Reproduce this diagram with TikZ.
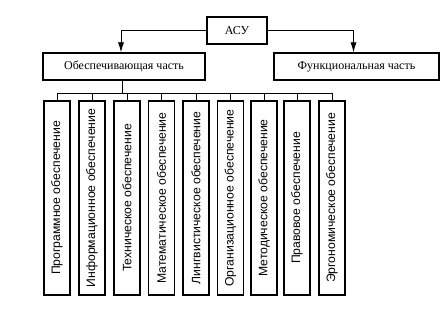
\documentclass[tikz,border=0pt]{standalone}
\usepackage{fontspec}
\setmainfont{Liberation Serif}
\newfontfamily\vsans{Liberation Sans}
\usetikzlibrary{arrows.meta}
\begin{document}
\begin{tikzpicture}[x=1pt,y=1pt,
  hbox/.style={draw, line width=1.3pt, inner sep=0pt, font=\fontsize{12}{14}\selectfont},
  vbox/.style={draw, line width=1.3pt, inner sep=0pt, minimum width=26pt, minimum height=194pt},
  conn/.style={line width=0.8pt},
  arr/.style={conn, -{Latex[length=10pt,width=6pt]}}]
\useasboundingbox (0,0) rectangle (448,312);
\node[hbox, minimum width=60pt, minimum height=27pt] (acu) at (237,281.5) {АСУ};
\node[hbox, minimum width=162pt, minimum height=27pt] (obesp) at (124,245.5) {Обеспечивающая часть};
\node[hbox, minimum width=165pt, minimum height=27pt] (func) at (356.5,245.5) {Функциональная часть};
\draw[arr] (acu.west) -| ([xshift=-3pt]obesp.north);
\draw[arr] (acu.east) -| ([xshift=-3pt]func.north);
\coordinate (bus) at (0,219);
\foreach \i/\x/\t in {1/57/Программное обеспечение,
  2/92/Информационное обеспечение,
  3/127/Техническое обеспечение,
  4/161.5/Математическое обеспечение,
  5/196/Лингвистическое обеспечение,
  6/230.5/Организационное обеспечение,
  7/264/Методическое обеспечение,
  8/297/Правовое обеспечение,
  9/332/Эргономическое обеспечение}{
  \node[vbox] (b\i) at (\x,114) {\rotatebox{90}{\vsans\fontsize{12.2}{14}\selectfont \t}};
  \draw[conn] (b\i.north) -- (b\i.north |- bus);
}
\draw[conn] ([xshift=-2pt]obesp.south) -- ([xshift=-2pt]obesp.south |- bus);
\draw[conn] (b1.north |- bus) -- (b9.north |- bus);
\end{tikzpicture}
\end{document}
